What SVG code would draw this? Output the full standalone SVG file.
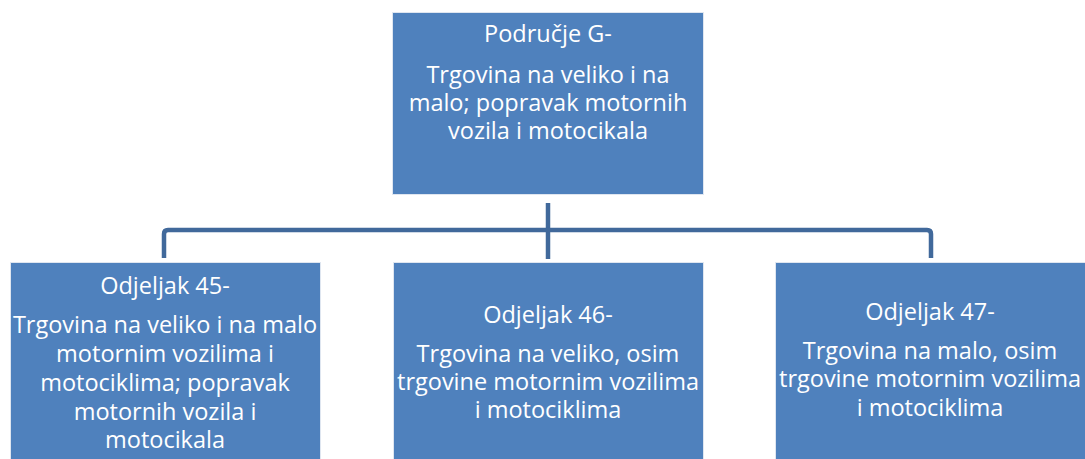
<svg xmlns="http://www.w3.org/2000/svg" width="1085" height="459" viewBox="0 0 1085 459">
<style>
.box{fill:#4f81bd;stroke:#dfe6f0;stroke-width:1}
.t{font-family:"Open Sans","Liberation Sans",sans-serif;font-size:23.5px;fill:#ffffff;text-anchor:middle}
.c{fill:none;stroke:#41699b;stroke-width:4.5;stroke-linejoin:round}
</style>
<rect width="1085" height="459" fill="#ffffff"/>
<g id="connectors">
<path class="c" d="M548,203 V259"/>
<path class="c" d="M164,258 V234 Q164,230 168,230 H927 Q931,230 931,234 V258"/>
</g>
<g id="node-g">
<rect class="box" x="392.5" y="12.5" width="311" height="182"/>
<text class="t" x="548" y="42">Područje G-</text>
<text class="t" x="548" y="83">Trgovina na veliko i na</text>
<text class="t" x="548" y="111">malo; popravak motornih</text>
<text class="t" x="548" y="139">vozila i motocikala</text>
</g>
<g id="node-45">
<rect class="box" x="10.5" y="262.5" width="310" height="200"/>
<text class="t" x="165" y="294">Odjeljak 45-</text>
<text class="t" x="165" y="333">Trgovina na veliko i na malo</text>
<text class="t" x="165" y="362">motornim vozilima i</text>
<text class="t" x="165" y="391">motociklima; popravak</text>
<text class="t" x="165" y="420">motornih vozila i</text>
<text class="t" x="165" y="448">motocikala</text>
</g>
<g id="node-46">
<rect class="box" x="393.5" y="262.5" width="310" height="200"/>
<text class="t" x="548" y="323">Odjeljak 46-</text>
<text class="t" x="548" y="362">Trgovina na veliko, osim</text>
<text class="t" x="548" y="390">trgovine motornim vozilima</text>
<text class="t" x="548" y="418">i motociklima</text>
</g>
<g id="node-47">
<rect class="box" x="775.5" y="262.5" width="312" height="200"/>
<text class="t" x="930" y="320">Odjeljak 47-</text>
<text class="t" x="930" y="359">Trgovina na malo, osim</text>
<text class="t" x="930" y="387">trgovine motornim vozilima</text>
<text class="t" x="930" y="416">i motociklima</text>
</g>
</svg>
